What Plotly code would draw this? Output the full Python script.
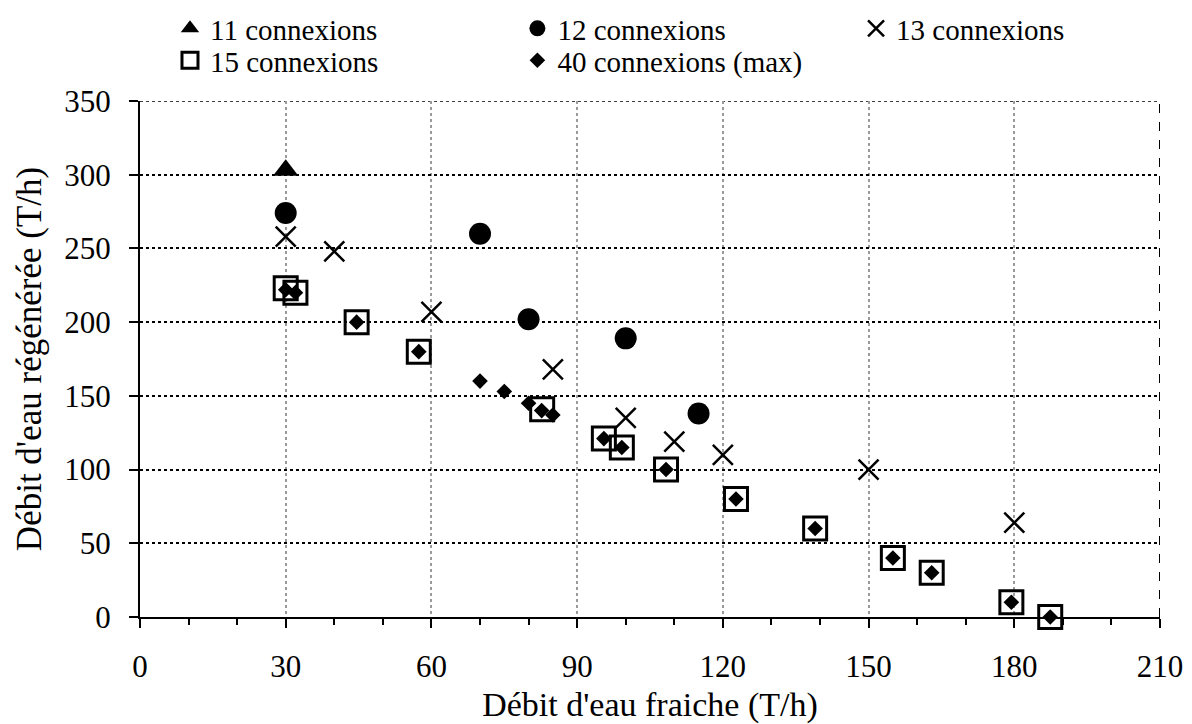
import plotly.graph_objects as go

FONT = "Liberation Serif, Times New Roman, serif"

x11 = [30]
y11 = [303]

x12 = [30, 70, 80, 100, 115]
y12 = [274, 260, 202, 189, 138]

x13 = [30, 40, 60, 85, 100, 110, 120, 150, 180]
y13 = [258, 248, 207, 168, 135, 119, 110, 100, 64]

x15 = [30, 32, 44.6, 57.4, 82.8, 95.5, 99.2, 108.3, 122.7, 139, 155, 163, 179.4, 187.4]
y15 = [223, 220, 200, 180, 141, 121, 115, 100, 80, 60, 40, 30, 10, 0]

x40 = [30, 32, 44.6, 57.4, 70, 75, 80, 82.7, 85, 95.5, 99.2, 108.3, 122.7, 139, 155, 163, 179.4, 187.4]
y40 = [222, 220, 200, 180, 160, 153, 145, 140, 137, 121, 115, 100, 80, 60, 40, 30, 10, 0]

x_ticks = [0, 30, 60, 90, 120, 150, 180, 210]
y_ticks = [0, 50, 100, 150, 200, 250, 300, 350]

fig = go.Figure()

fig.add_trace(go.Scatter(x=x11, y=y11, mode="markers", name="11 connexions",
                         marker=dict(symbol="triangle-up", size=22, color="black"),
                         legend="legend", cliponaxis=False))
fig.add_trace(go.Scatter(x=x12, y=y12, mode="markers", name="12 connexions",
                         marker=dict(symbol="circle", size=22, color="black"),
                         legend="legend2", cliponaxis=False))
fig.add_trace(go.Scatter(x=x13, y=y13, mode="markers", name="13 connexions",
                         marker=dict(symbol="x-thin-open", size=20, color="black",
                                     line=dict(color="black", width=2.5)),
                         legend="legend3", cliponaxis=False))
fig.add_trace(go.Scatter(x=x15, y=y15, mode="markers", name="15 connexions",
                         marker=dict(symbol="square-open", size=23, color="black",
                                     line=dict(color="black", width=3)),
                         legend="legend4", cliponaxis=False))
fig.add_trace(go.Scatter(x=x40, y=y40, mode="markers", name="40 connexions (max)",
                         marker=dict(symbol="diamond", size=12, color="black"),
                         legend="legend5", cliponaxis=False))

# plot frame: dashed right edge and dotted top edge
fig.add_shape(type="line", xref="x", yref="y", x0=210, x1=210, y0=0, y1=350,
              line=dict(color="black", width=2, dash="dash"), layer="below")
fig.add_shape(type="line", xref="x", yref="y", x0=0, x1=210, y0=350, y1=350,
              line=dict(color="black", width=1.5, dash="dot"), layer="below")

leg_common = dict(orientation="v", yanchor="top", xanchor="left",
                  font=dict(family=FONT, size=29, color="black"),
                  bgcolor="rgba(0,0,0,0)", itemsizing="trace",
                  tracegroupgap=0)
ROW1 = 1.19
ROW2 = 1.128
COL1, COL2, COL3 = 0.0294, 0.370, 0.702

fig.update_layout(
    width=1192, height=724,
    margin=dict(l=140, r=32, t=101, b=107, autoexpand=False),
    paper_bgcolor="white", plot_bgcolor="white",
    font=dict(family=FONT, size=31, color="black"),
    showlegend=True,
    legend=dict(x=COL1, y=ROW1, **leg_common),
    legend2=dict(x=COL2, y=ROW1, **leg_common),
    legend3=dict(x=COL3, y=ROW1, **leg_common),
    legend4=dict(x=COL1, y=ROW2, **leg_common),
    legend5=dict(x=COL2, y=ROW2, **leg_common),
    xaxis=dict(
        range=[0, 210], tickvals=x_ticks, ticktext=[str(v) for v in x_ticks],
        showline=True, linecolor="black", linewidth=2,
        ticks="outside", ticklen=9, tickwidth=2, tickcolor="black",
        minor=dict(dtick=10, ticks="outside", ticklen=6, tickwidth=2, tickcolor="black", showgrid=False),
        showgrid=True, gridcolor="#9a9a9a", griddash="dot", gridwidth=1.5,
        zeroline=False, tickfont=dict(family=FONT, size=31),
        ticklabelstandoff=12,
        title=dict(text="Débit d'eau fraiche (T/h)", font=dict(family=FONT, size=34), standoff=13),
    ),
    yaxis=dict(
        range=[0, 350], tickvals=y_ticks, ticktext=[str(v) for v in y_ticks],
        showline=True, linecolor="black", linewidth=2,
        ticks="outside", ticklen=9, tickwidth=2, tickcolor="black",
        showgrid=True, gridcolor="black", griddash="dot", gridwidth=1.5,
        zeroline=False, tickfont=dict(family=FONT, size=31),
        ticklabelstandoff=12,
        title=dict(text="Débit d'eau régénérée (T/h)", font=dict(family=FONT, size=35), standoff=12),
    ),
)

fig.write_html("out.html")
